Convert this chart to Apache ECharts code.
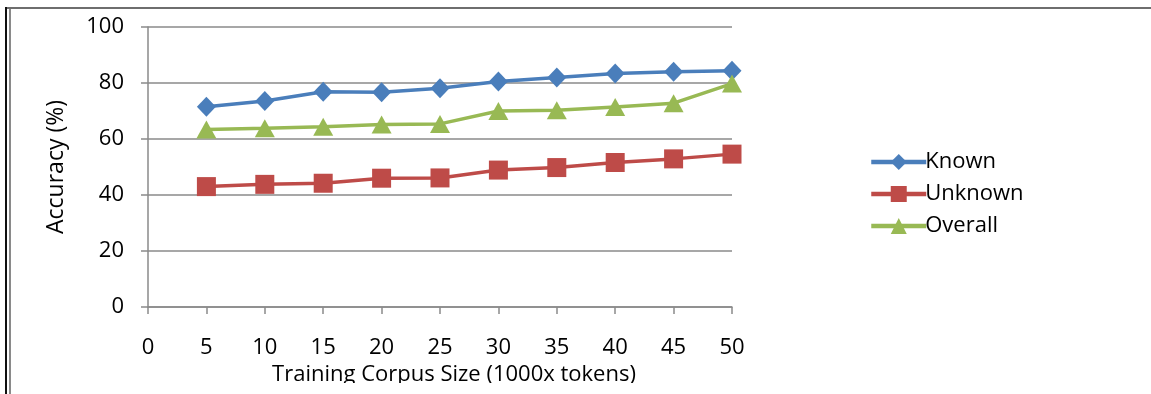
<!DOCTYPE html>
<html>
<head>
<meta charset="utf-8">
<script src="https://cdn.jsdelivr.net/npm/echarts@6/dist/echarts.min.js"></script>
<style>
  html, body { margin: 0; padding: 0; background: #fff; }
  #wrap { position: relative; width: 1151px; height: 394px; overflow: hidden; }
  #chart { position: absolute; left: 0; top: 0; width: 1151px; height: 383px; }
  .frameTop { position: absolute; left: 5px; right: 0; top: 7px; height: 2px; background: #6e6e6e; }
  .frameL1 { position: absolute; left: 5px; top: 7px; bottom: 0; width: 2px; background: #111; }
  .frameL2 { position: absolute; left: 9px; top: 9px; bottom: 0; width: 2px; background: #8a8a8a; }
</style>
</head>
<body>
<div id="wrap">
  <div id="chart"></div>
  <div class="frameTop"></div>
  <div class="frameL1"></div>
  <div class="frameL2"></div>
</div>
<script>
// corpus size (x1000 tokens)
const sizes = [5, 10, 15, 20, 25, 30, 35, 40, 45, 50]
const known = [71.5, 73.6, 76.9, 76.7, 78.1, 80.5, 82.0, 83.4, 84.0, 84.4]
const unknown = [43.0, 43.8, 44.2, 46.0, 46.1, 48.9, 49.8, 51.6, 52.9, 54.6]
const overall = [63.4, 63.8, 64.4, 65.2, 65.4, 70.0, 70.3, 71.4, 72.8, 79.8]

const FONT = "'Open Sans', 'Noto Sans', sans-serif"
const GRID = "#8a8a8a"

const toPairs = (vals) => sizes.map((s, i) => [s, vals[i]])

const chart = echarts.init(document.getElementById("chart"))

const option = {
  animation: false,
  textStyle: { fontFamily: FONT, color: "#000" },
  grid: { left: 148, right: 419, top: 27, bottom: 76, containLabel: false, outerBoundsMode: "none" },
  legend: {
    orient: "vertical",
    left: 864,
    top: 146,
    itemWidth: 55,
    itemHeight: 20,
    itemGap: 10,
    lineStyle: { width: 4.5 },
    textStyle: { fontSize: 22, color: "#000", fontFamily: FONT, padding: [0, 0, 0, -6] },
    data: ["Known", "Unknown", "Overall"],
  },
  xAxis: {
    type: "value",
    min: 0,
    max: 50,
    interval: 5,
    name: "Training Corpus Size (1000x tokens)",
    nameLocation: "middle",
    nameGap: 57,
    nameTextStyle: { fontSize: 22, color: "#000", padding: [0, 0, 0, 28] },
    axisLine: { lineStyle: { color: GRID, width: 1.5 } },
    axisTick: { show: true, length: 7, lineStyle: { color: GRID, width: 1.5 } },
    axisLabel: { fontSize: 22, color: "#000", margin: 30 },
    splitLine: { show: false },
  },
  yAxis: {
    type: "value",
    min: 0,
    max: 100,
    interval: 20,
    name: "Accuracy (%)",
    nameLocation: "middle",
    nameGap: 80,
    nameRotate: 90,
    nameTextStyle: { fontSize: 23, color: "#000" },
    axisLine: { show: true, lineStyle: { color: GRID, width: 1.5 } },
    axisTick: { show: true, length: 7, lineStyle: { color: GRID, width: 1.5 } },
    axisLabel: { fontSize: 22, color: "#000", margin: 24 },
    splitLine: { show: true, lineStyle: { color: GRID, width: 1.5 } },
  },
  series: [
    {
      name: "Known",
      type: "line",
      data: toPairs(known),
      symbol: "diamond",
      symbolSize: [19, 20],
      lineStyle: { color: "#4a7ebb", width: 3.5 },
      itemStyle: { color: "#4a7ebb" },
    },
    {
      name: "Unknown",
      type: "line",
      data: toPairs(unknown),
      symbol: "rect",
      symbolSize: 19,
      lineStyle: { color: "#be4b48", width: 3.5 },
      itemStyle: { color: "#be4b48" },
    },
    {
      name: "Overall",
      type: "line",
      data: toPairs(overall),
      symbol: "triangle",
      symbolSize: [20, 18],
      lineStyle: { color: "#98b954", width: 3.5 },
      itemStyle: { color: "#98b954" },
    },
  ],
}

chart.setOption(option)
window.addEventListener("resize", () => chart.resize())
</script>
</body>
</html>
